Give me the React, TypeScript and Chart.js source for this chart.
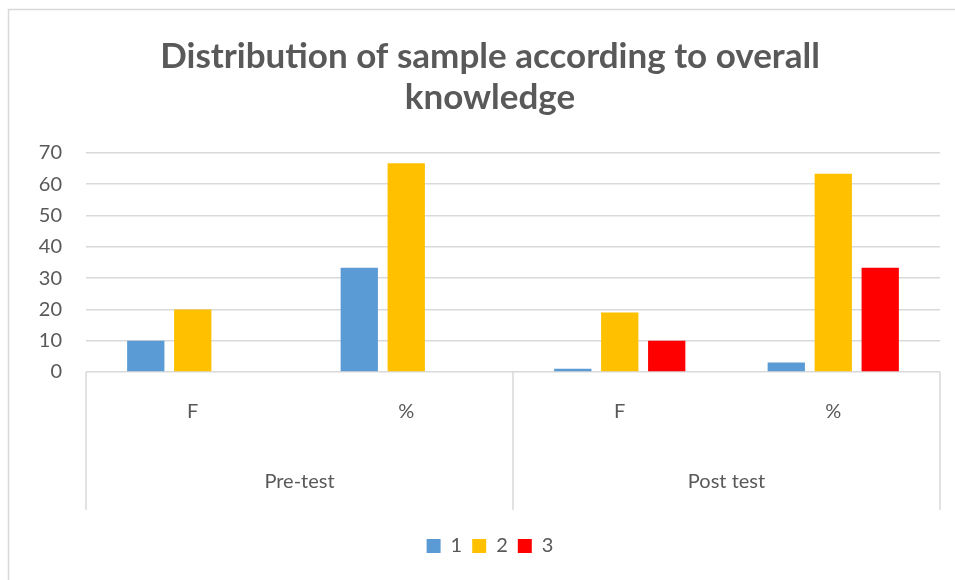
import React, { useEffect, useRef } from "react";
import { Chart, registerables } from "chart.js";

Chart.register(...registerables);

const titleLines = ["Distribution of sample according to overall", "knowledge"];
const subCategories = ["F", "%", "F", "%"];
const groupCategories = ["Pre-test", "Post test"];
const seriesNames = ["1", "2", "3"];
const series1 = [10, 33.3, 1, 3];
const series2 = [20, 66.7, 19, 63.3];
const series3 = [0, 0, 10, 33.3];
const seriesColors = ["#5B9BD5", "#FFC000", "#FF0000"];

const TEXT = "#595959";
const GRID = "#d9d9d9";
const FONT = "Lato, 'Open Sans', sans-serif";

const frame = {
  id: "frame",
  beforeDraw(chart: any) {
    const ctx = chart.ctx;
    ctx.save();
    ctx.fillStyle = "#ffffff";
    ctx.fillRect(0, 0, chart.width, chart.height);
    ctx.strokeStyle = GRID;
    ctx.lineWidth = 1.5;
    ctx.strokeRect(8.5, 9.5, 966, 600);
    ctx.restore();
  },
  afterDraw(chart: any) {
    const xs = chart.scales.x;
    const x2 = chart.scales.x2;
    const ctx = chart.ctx;
    const mid = (xs.getPixelForValue(1) + xs.getPixelForValue(2)) / 2;
    const xsPos = [xs.left, mid, xs.right];
    ctx.save();
    ctx.strokeStyle = GRID;
    ctx.lineWidth = 1.5;
    xsPos.forEach((px) => {
      ctx.beginPath();
      ctx.moveTo(px, xs.top);
      ctx.lineTo(px, x2.bottom - 16);
      ctx.stroke();
    });
    ctx.restore();
  },
};

export default function App() {
  const ref = useRef<HTMLCanvasElement | null>(null);

  useEffect(() => {
    document.body.style.margin = "0";
    document.body.style.overflow = "hidden";
    document.documentElement.style.overflow = "hidden";
    const canvas = ref.current;
    if (!canvas) return;
    Chart.defaults.font.family = FONT;
    Chart.defaults.color = TEXT;
    const data = [series1, series2, series3];
    const chart = new Chart(canvas, {
      type: "bar",
      data: {
        labels: subCategories,
        datasets: seriesNames.map((name, i) => ({
          label: name,
          data: data[i],
          backgroundColor: seriesColors[i],
          borderWidth: 0,
          categoryPercentage: 0.66,
          barPercentage: 0.794,
          xAxisID: "x",
          yAxisID: "y",
        })),
      },
      options: {
        responsive: false,
        animation: false,
        layout: { padding: { top: 0, left: 0, right: 0, bottom: 14 } },
        scales: {
          x: {
            type: "category",
            position: "bottom",
            grid: { display: false, drawTicks: false },
            border: { display: false },
            ticks: { color: TEXT, font: { size: 20, family: FONT }, padding: 28 },
            afterFit: (s: any) => {
              s.height = 70;
            },
          },
          x2: {
            type: "category",
            position: "bottom",
            labels: groupCategories,
            offset: true,
            grid: { display: false, drawTicks: false },
            border: { display: false },
            ticks: { color: TEXT, font: { size: 20, family: FONT }, padding: 28 },
            afterFit: (s: any) => {
              s.height = 84;
            },
          },
          y: {
            min: 0,
            max: 70,
            ticks: { stepSize: 10, color: TEXT, font: { size: 20, family: FONT }, padding: 24 },
            grid: { color: GRID, lineWidth: 1.5, drawTicks: false },
            border: { display: false },
            afterFit: (s: any) => {
              s.width = 86;
            },
          },
          y2: {
            type: "linear",
            position: "right",
            display: true,
            grid: { display: false, drawTicks: false },
            ticks: { display: false },
            border: { display: false },
            afterFit: (s: any) => {
              s.width = 40;
            },
          },
        },
        plugins: {
          title: {
            display: true,
            text: titleLines,
            color: TEXT,
            font: { size: 35, weight: "bold", family: FONT, lineHeight: 1.17 },
            padding: { top: 36, bottom: 35 },
          },
          legend: {
            display: true,
            position: "bottom",
            labels: {
              boxWidth: 14,
              boxHeight: 14,
              padding: 10,
              color: TEXT,
              font: { size: 20, family: FONT },
            },
          },
          tooltip: { enabled: false },
        },
      },
      plugins: [frame],
    } as any);
    return () => chart.destroy();
  }, []);

  return (
    <div style={{ width: 980, height: 580 }}>
      <canvas ref={ref} width={980} height={580} style={{ display: "block" }} />
    </div>
  );
}
